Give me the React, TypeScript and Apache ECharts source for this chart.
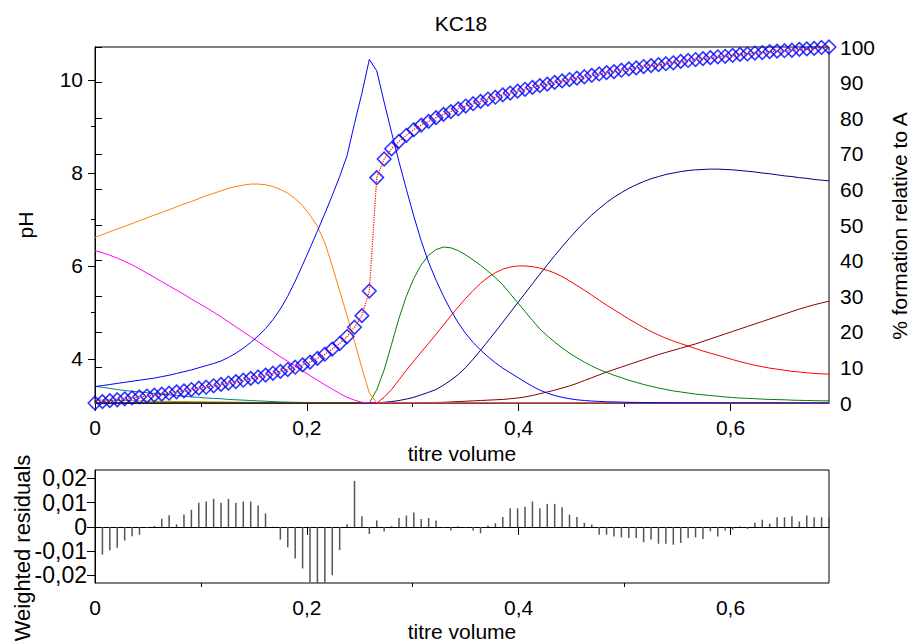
import React, { useEffect, useRef } from "react";
import * as echarts from "echarts";

// Titre volume increment between successive measurements (100 points, 0 .. 0.693)
const STEP = 0.007;

// Measured pH (diamonds) and the fitted curve (red dotted)
const PH = [
  3.05, 3.08, 3.10, 3.12, 3.14, 3.16, 3.18, 3.20, 3.22, 3.24,
  3.26, 3.29, 3.31, 3.34, 3.37, 3.39, 3.42, 3.45, 3.48, 3.51,
  3.54, 3.58, 3.61, 3.65, 3.69, 3.73, 3.77, 3.82, 3.87, 3.93,
  4.01, 4.10, 4.21, 4.33, 4.48, 4.68, 4.93, 5.46, 7.90, 8.30,
  8.52, 8.68, 8.81, 8.93, 9.03, 9.11, 9.19, 9.26, 9.32, 9.38,
  9.44, 9.49, 9.54, 9.59, 9.63, 9.68, 9.72, 9.76, 9.80, 9.84,
  9.88, 9.91, 9.95, 9.98, 10.01, 10.04, 10.07, 10.10, 10.13, 10.16,
  10.18, 10.21, 10.24, 10.26, 10.29, 10.31, 10.33, 10.35, 10.37, 10.40,
  10.42, 10.44, 10.46, 10.48, 10.50, 10.51, 10.53, 10.55, 10.56, 10.58,
  10.59, 10.61, 10.62, 10.63, 10.64, 10.66, 10.67, 10.68, 10.70, 10.71,
];

// Weighted residuals of the fit
const RESIDUALS = [
  0, -0.0114, -0.0096, -0.0086, -0.0056, -0.0038, -0.0032, -0.0003, 0.0004, 0.0034,
  0.0048, 0.0011, 0.0052, 0.0071, 0.0100, 0.0105, 0.0116, 0.0100, 0.0116, 0.0100,
  0.0105, 0.0105, 0.0089, 0.0056, 0.0001, -0.0052, -0.0084, -0.0130, -0.0171, -0.0228,
  -0.0260, -0.0250, -0.0199, -0.0095, 0.0011, 0.0190, 0.0044, -0.0029, 0.0027, -0.0019,
  0.0003, 0.0037, 0.0047, 0.0060, 0.0033, 0.0037, 0.0027, -0.0003, -0.0014, 0.0003,
  -0.0003, -0.0015, -0.0026, 0.0006, 0.0016, 0.0041, 0.0077, 0.0077, 0.0083, 0.0105,
  0.0077, 0.0095, 0.0095, 0.0081, 0.0051, 0.0041, 0.0017, 0.0010, -0.0032, -0.0032,
  -0.0039, -0.0043, -0.0045, -0.0045, -0.0063, -0.0052, -0.0069, -0.0069, -0.0073, -0.0066,
  -0.0045, -0.0043, -0.0050, -0.0018, -0.0039, -0.0014, -0.0011, 0.0002, -0.0008, 0.0017,
  0.0030, 0.0014, 0.0040, 0.0040, 0.0044, 0.0023, 0.0047, 0.0040, 0.0040, 0.0040,
];

// Species distribution, % formation relative to A
const SP_ORANGE = [
  46.5, 47.3, 48.1, 48.9, 49.6, 50.4, 51.2, 52.0, 52.8, 53.5,
  54.3, 55.1, 55.9, 56.6, 57.4, 58.2, 58.9, 59.6, 60.3, 60.8,
  61.2, 61.5, 61.5, 61.3, 60.8, 60.0, 58.9, 57.4, 55.4, 52.8,
  49.6, 45.0, 38.5, 31.5, 24.5, 17.3, 9.8, 2.8, 0, 0,
  0, 0, 0, 0, 0, 0, 0, 0, 0, 0,
  0, 0, 0, 0, 0, 0, 0, 0, 0, 0,
  0, 0, 0, 0, 0, 0, 0, 0, 0, 0,
  0, 0, 0, 0, 0, 0, 0, 0, 0, 0,
  0, 0, 0, 0, 0, 0, 0, 0, 0, 0,
  0, 0, 0, 0, 0, 0, 0, 0, 0, 0,
];

const SP_MAGENTA = [
  42.8, 42.2, 41.5, 40.7, 39.8, 38.8, 37.7, 36.5, 35.3, 34.1,
  32.9, 31.7, 30.5, 29.2, 28.0, 26.8, 25.5, 24.2, 22.8, 21.4,
  20.0, 18.6, 17.2, 15.8, 14.4, 13.0, 11.7, 10.3, 9.0, 7.7,
  6.4, 5.1, 3.9, 2.7, 1.6, 0.8, 0.2, 0, 0, 0,
  0, 0, 0, 0, 0, 0, 0, 0, 0, 0,
  0, 0, 0, 0, 0, 0, 0, 0, 0, 0,
  0, 0, 0, 0, 0, 0, 0, 0, 0, 0,
  0, 0, 0, 0, 0, 0, 0, 0, 0, 0,
  0, 0, 0, 0, 0, 0, 0, 0, 0, 0,
  0, 0, 0, 0, 0, 0, 0, 0, 0, 0,
];

const SP_BLUE = [
  4.6, 4.9, 5.2, 5.5, 5.8, 6.1, 6.4, 6.7, 7.0, 7.4,
  7.8, 8.3, 8.8, 9.3, 9.9, 10.5, 11.1, 11.8, 12.8, 14.0,
  15.4, 17.0, 18.8, 20.9, 23.4, 26.4, 30.0, 34.2, 38.8, 43.5,
  48.3, 53.2, 58.3, 63.6, 69.5, 78.5, 87.0, 96.5, 93.3, 84.5,
  76.0, 67.8, 60.0, 52.5, 45.5, 39.5, 34.5, 30.0, 26.0, 22.5,
  19.5, 17.0, 14.9, 13.0, 11.3, 9.8, 8.5, 7.2, 5.9, 4.7,
  3.6, 2.8, 2.1, 1.6, 1.2, 0.9, 0.7, 0.55, 0.45, 0.35,
  0.3, 0.25, 0.2, 0.17, 0.14, 0.12, 0.1, 0.09, 0.08, 0.07,
  0.06, 0.05, 0.05, 0.04, 0.04, 0.03, 0.03, 0.03, 0.02, 0.02,
  0.02, 0.02, 0.02, 0.01, 0.01, 0.01, 0.01, 0.01, 0.01, 0.01,
];

const SP_GREEN = [
  0, 0, 0, 0, 0, 0, 0, 0, 0, 0,
  0, 0, 0, 0, 0, 0, 0, 0, 0, 0,
  0, 0, 0, 0, 0, 0, 0, 0, 0, 0,
  0, 0, 0, 0, 0, 0, 0, 0, 3.7, 9.3,
  16.5, 23.8, 30.0, 35.0, 38.8, 41.5, 43.1, 43.8, 43.6, 42.8,
  41.6, 40.2, 38.7, 37.0, 35.2, 33.2, 30.7, 28.2, 25.7, 23.2,
  20.8, 18.9, 17.1, 15.5, 14.0, 12.7, 11.5, 10.4, 9.4, 8.6,
  7.8, 7.1, 6.4, 5.8, 5.2, 4.7, 4.2, 3.8, 3.4, 3.1,
  2.8, 2.5, 2.3, 2.1, 1.9, 1.7, 1.55, 1.4, 1.3, 1.2,
  1.1, 1.0, 0.95, 0.9, 0.8, 0.75, 0.7, 0.65, 0.62, 0.6,
];

const SP_RED = [
  0, 0, 0, 0, 0, 0, 0, 0, 0, 0,
  0, 0, 0, 0, 0, 0, 0, 0, 0, 0,
  0, 0, 0, 0, 0, 0, 0, 0, 0, 0,
  0, 0, 0, 0, 0, 0, 0, 0, 0, 1.6,
  3.8, 6.5, 9.2, 11.8, 14.3, 16.8, 19.3, 21.9, 24.5, 27.0,
  29.4, 31.6, 33.6, 35.3, 36.6, 37.6, 38.2, 38.5, 38.5, 38.3,
  37.9, 37.3, 36.5, 35.5, 34.3, 33.0, 31.7, 30.3, 28.9, 27.5,
  26.2, 24.9, 23.6, 22.4, 21.2, 20.1, 19.1, 18.2, 17.4, 16.7,
  16.0, 15.3, 14.6, 14.0, 13.4, 12.8, 12.2, 11.6, 11.1, 10.6,
  10.2, 9.8, 9.5, 9.2, 8.9, 8.7, 8.5, 8.3, 8.2, 8.1,
];

const SP_NAVY = [
  0, 0, 0, 0, 0, 0, 0, 0, 0, 0,
  0, 0, 0, 0, 0, 0, 0, 0, 0, 0,
  0, 0, 0, 0, 0, 0, 0, 0, 0, 0,
  0, 0, 0, 0, 0, 0, 0, 0, 0.05, 0.2,
  0.4, 0.7, 1.1, 1.6, 2.3, 3.0, 3.8, 5.0, 6.4, 8.0,
  10.0, 12.3, 14.8, 17.4, 20.0, 22.7, 25.4, 28.1, 30.8, 33.5,
  36.2, 38.8, 41.4, 43.9, 46.3, 48.6, 50.8, 52.8, 54.6, 56.3,
  57.8, 59.1, 60.3, 61.3, 62.2, 63.0, 63.6, 64.2, 64.6, 65.0,
  65.3, 65.5, 65.6, 65.7, 65.7, 65.6, 65.5, 65.3, 65.1, 64.9,
  64.6, 64.4, 64.1, 63.8, 63.6, 63.3, 63.1, 62.8, 62.6, 62.4,
];

const SP_MAROON = [
  0, 0, 0, 0, 0, 0, 0, 0, 0, 0,
  0, 0, 0, 0, 0, 0, 0, 0, 0, 0,
  0, 0, 0, 0, 0, 0, 0, 0, 0, 0,
  0, 0, 0, 0, 0, 0, 0, 0, 0, 0,
  0, 0, 0, 0, 0.05, 0.1, 0.15, 0.2, 0.3, 0.4,
  0.5, 0.6, 0.7, 0.8, 0.9, 1.0, 1.2, 1.4, 1.7, 2.1,
  2.6, 3.1, 3.6, 4.2, 4.8, 5.5, 6.3, 7.1, 7.9, 8.7,
  9.4, 10.1, 10.8, 11.5, 12.2, 12.9, 13.6, 14.2, 14.8, 15.4,
  16.0, 16.6, 17.3, 18.0, 18.7, 19.4, 20.1, 20.8, 21.5, 22.2,
  22.9, 23.6, 24.3, 25.0, 25.7, 26.4, 27.0, 27.6, 28.1, 28.6,
];

const SP_TEAL = [
  4.7, 4.4, 4.1, 3.8, 3.5, 3.3, 3.1, 2.9, 2.7, 2.5,
  2.3, 2.1, 1.9, 1.7, 1.6, 1.4, 1.3, 1.2, 1.0, 0.9,
  0.8, 0.7, 0.6, 0.5, 0.4, 0.3, 0.25, 0.2, 0.15, 0.1,
  0.08, 0.05, 0.03, 0.02, 0.01, 0, 0, 0, 0, 0,
  0, 0, 0, 0, 0, 0, 0, 0, 0, 0,
  0, 0, 0, 0, 0, 0, 0, 0, 0, 0,
  0, 0, 0, 0, 0, 0, 0, 0, 0, 0,
  0, 0, 0, 0, 0, 0, 0, 0, 0, 0,
  0, 0, 0, 0, 0, 0, 0, 0, 0, 0,
  0, 0, 0, 0, 0, 0, 0, 0, 0, 0,
];

const SP_OLIVE = [
  0.9, 0.85, 0.8, 0.75, 0.7, 0.65, 0.6, 0.55, 0.5, 0.48,
  0.45, 0.42, 0.4, 0.37, 0.35, 0.32, 0.3, 0.28, 0.25, 0.22,
  0.2, 0.18, 0.15, 0.13, 0.1, 0.08, 0.07, 0.05, 0.04, 0.02,
  0, 0, 0, 0, 0, 0, 0, 0, 0, 0,
  0, 0, 0, 0, 0, 0, 0, 0, 0, 0,
  0, 0, 0, 0, 0, 0, 0, 0, 0, 0,
  0, 0, 0, 0, 0, 0, 0, 0, 0, 0,
  0, 0, 0, 0, 0, 0, 0, 0, 0, 0,
  0, 0, 0, 0, 0, 0, 0, 0, 0, 0,
  0, 0, 0, 0, 0, 0, 0, 0, 0, 0,
];

const SPECIES = [
  { name: "olive", color: "#999900", values: SP_OLIVE },
  { name: "teal", color: "#008080", values: SP_TEAL },
  { name: "maroon", color: "#800000", values: SP_MAROON },
  { name: "navy", color: "#000080", values: SP_NAVY },
  { name: "red", color: "#FF0000", values: SP_RED },
  { name: "green", color: "#008000", values: SP_GREEN },
  { name: "magenta", color: "#FF00FF", values: SP_MAGENTA },
  { name: "orange", color: "#FF8000", values: SP_ORANGE },
  { name: "blue", color: "#0000FF", values: SP_BLUE },
];

// Axis ticks
const X_MAX = 0.693;
const X_TICKS = [0, 0.2, 0.4, 0.6];
const X_MINOR = [0.1, 0.3, 0.5];
const PH_MIN = 3.05;
const PH_MAX = 10.71;
const PH_TICKS = [4, 6, 8, 10];
const PH_MINOR = [5, 7, 9];
const RES_MIN = -0.0231;
const RES_MAX = 0.0235;
const RES_TICKS = [-0.02, -0.01, 0, 0.01, 0.02];

const FONT = "'Liberation Sans', Arial, Helvetica, sans-serif";
const FS = 21;

const comma = (v: number) => String(v).replace(".", ",");
const pairs = (arr: number[]) => arr.map((v, i) => [+(i * STEP).toFixed(3), v]);

export default function App() {
  const ref = useRef<HTMLDivElement>(null);

  useEffect(() => {
    if (!ref.current) return;
    const chart = echarts.init(ref.current, undefined, { renderer: "svg" });

    const axisLine = { show: true, lineStyle: { color: "#000", width: 1 } };
    const label = { color: "#000", fontSize: FS, fontFamily: FONT };

    const xMajor = (gridIndex: number) => ({
      type: "value",
      gridIndex,
      min: 0,
      max: X_MAX,
      position: "bottom",
      axisLine,
      axisTick: { show: true, length: 8, customValues: X_TICKS, lineStyle: { color: "#000" } },
      axisLabel: { ...label, margin: 14, customValues: X_TICKS, formatter: comma },
      splitLine: { show: false },
    });
    const xMinor = (gridIndex: number) => ({
      type: "value",
      gridIndex,
      min: 0,
      max: X_MAX,
      position: "bottom",
      axisLine: { show: false },
      axisTick: { show: true, length: 4, customValues: X_MINOR, lineStyle: { color: "#000" } },
      axisLabel: { show: false },
      splitLine: { show: false },
    });

    const text = (t: string, x: number, y: number, rotated: boolean, size = FS) => ({
      type: "text",
      x,
      y,
      rotation: rotated ? Math.PI / 2 : 0,
      style: { text: t, fontSize: size, fontFamily: FONT, fill: "#000", textAlign: "center", textVerticalAlign: "middle" },
    });

    const option: any = {
      animation: false,
      backgroundColor: "#fff",
      textStyle: { fontFamily: FONT },
      grid: [
        { left: 95, right: 82, top: 47, height: 356, show: true, borderColor: "#000", borderWidth: 1, containLabel: false },
        { left: 95, right: 82, top: 470, height: 113, show: true, borderColor: "#000", borderWidth: 1, containLabel: false },
      ],
      xAxis: [xMajor(0), xMinor(0), xMajor(1), xMinor(1)],
      yAxis: [
        {
          type: "value",
          gridIndex: 0,
          min: PH_MIN,
          max: PH_MAX,
          position: "left",
          axisLine,
          axisTick: { show: true, length: 7, customValues: PH_TICKS, lineStyle: { color: "#000" } },
          axisLabel: { ...label, margin: 12, customValues: PH_TICKS, formatter: comma },
          splitLine: { show: false },
        },
        {
          type: "value",
          gridIndex: 0,
          min: 0,
          max: 100,
          interval: 10,
          position: "right",
          axisLine,
          axisTick: { show: true, length: 7, lineStyle: { color: "#000" } },
          axisLabel: { ...label, margin: 11 },
          splitLine: { show: false },
        },
        {
          type: "value",
          gridIndex: 0,
          min: PH_MIN,
          max: PH_MAX,
          position: "left",
          axisLine: { show: false },
          axisTick: { show: true, length: 4, customValues: PH_MINOR, lineStyle: { color: "#000" } },
          axisLabel: { show: false },
          splitLine: { show: false },
        },
        {
          type: "value",
          gridIndex: 1,
          min: RES_MIN,
          max: RES_MAX,
          position: "left",
          axisLine,
          axisTick: { show: true, length: 8, customValues: RES_TICKS, lineStyle: { color: "#000" } },
          axisLabel: { ...label, fontSize: 23, margin: 8, customValues: RES_TICKS, formatter: comma },
          splitLine: { show: false },
        },
      ],
      series: [
        ...SPECIES.map((s) => ({
          type: "line",
          name: s.name,
          xAxisIndex: 0,
          yAxisIndex: 1,
          data: pairs(s.values),
          showSymbol: false,
          smooth: false,
          lineStyle: { color: s.color, width: 1 },
          z: 2,
        })),
        {
          type: "scatter",
          name: "pH measured",
          xAxisIndex: 0,
          yAxisIndex: 0,
          data: pairs(PH),
          symbol: "diamond",
          symbolSize: 13.5,
          clip: false,
          itemStyle: { color: "rgba(0,0,0,0)", borderColor: "#0000FF", borderWidth: 1.6 },
          z: 3,
        },
        {
          type: "line",
          name: "pH calculated",
          xAxisIndex: 0,
          yAxisIndex: 0,
          data: pairs(PH),
          showSymbol: false,
          lineStyle: { color: "#FF0000", width: 1.2, type: "dotted" },
          z: 4,
        },
        {
          type: "bar",
          name: "residuals",
          xAxisIndex: 2,
          yAxisIndex: 3,
          data: pairs(RESIDUALS),
          barWidth: 1.5,
          clip: true,
          itemStyle: { color: "#555555" },
        },
      ],
      graphic: [
        text("KC18", 461, 23, false),
        text("pH", 25, 225, true),
        text("% formation relative to A", 899, 226, true),
        text("titre volume", 462, 453, false),
        text("Weighted residuals", 22, 548, true, 22),
        text("titre volume", 462, 631, false),
      ],
    };

    chart.setOption(option);
    return () => chart.dispose();
  }, []);

  return (
    <div
      ref={ref}
      style={{ position: "fixed", left: 0, top: 0, width: 911, height: 644, background: "#fff" }}
    />
  );
}
